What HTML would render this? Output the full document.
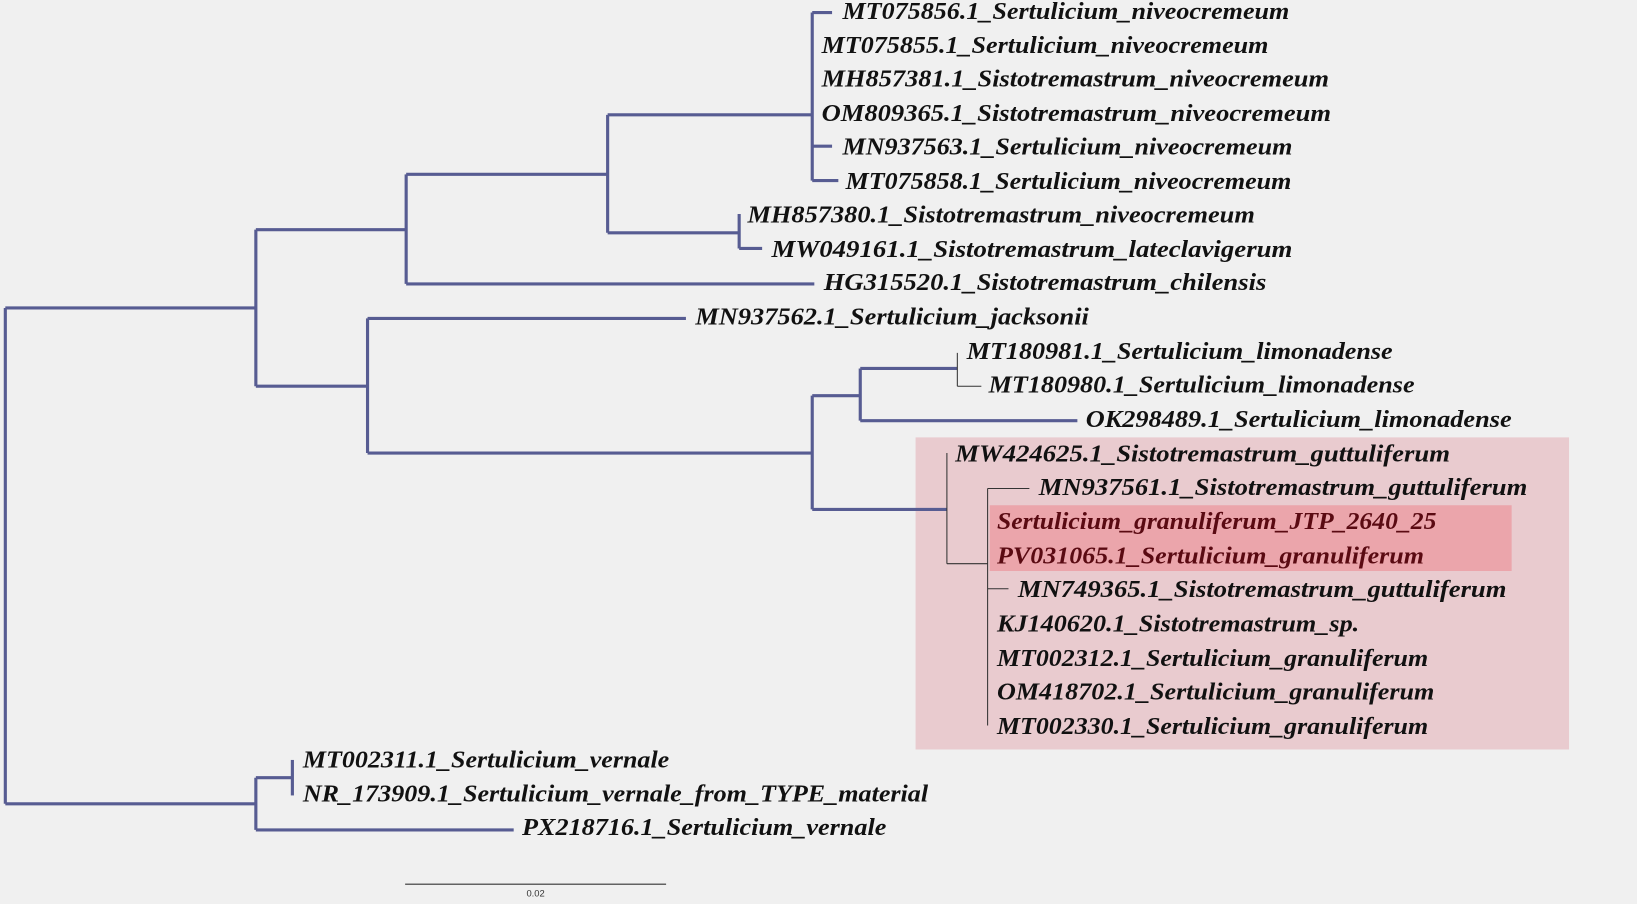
<!DOCTYPE html>
<html><head><meta charset="utf-8"><style>
html,body{margin:0;padding:0;background:#f0f0f0;width:1637px;height:904px;overflow:hidden}
svg{display:block}
text{font-family:"Liberation Serif",serif;font-style:italic;font-weight:bold;font-size:23px;fill:#111}
</style></head><body>
<svg width="1637" height="904" viewBox="0 0 1568 866" xmlns="http://www.w3.org/2000/svg">
<rect x="0" y="0" width="1568" height="866" fill="#f0f0f0"/>
<rect x="877" y="419" width="626" height="299" fill="#e9cbcf"/>
<rect x="948" y="484" width="500" height="63" fill="#eba5ab"/>
<g stroke="#575c92" stroke-width="3" fill="none">
<path d="M5 295V770M5 295H245M5 770H245"/>
<path d="M245 220V370M245 220H389M245 370H352"/>
<path d="M389 167V272M389 167H582M389 272H780"/>
<path d="M582 110V223M582 110H778M582 223H708"/>
<path d="M778 12V173M778 12H797M778 140H797M778 173H803"/>
<path d="M708 205V238M708 238H730"/>
<path d="M352 305V434M352 305H657M352 434H778"/>
<path d="M778 379V488M778 379H824M778 488H907"/>
<path d="M824 353V403M824 353H917M824 403H1032"/>
<path d="M245 745V795M245 745H280M245 795H492"/>
<path d="M280 728V762"/>
</g>
<g stroke="#333" stroke-width="1" fill="none">
<path d="M917 338V370M917 370H940"/>
<path d="M907 434V540M907 540H946"/>
<path d="M946 468V695M946 468H986M946 564H966"/>
<path d="M388 847H638"/>
</g>
<text x="807" y="18" textLength="428" lengthAdjust="spacingAndGlyphs">MT075856.1_Sertulicium_niveocremeum</text>
<text x="787" y="51" textLength="428" lengthAdjust="spacingAndGlyphs">MT075855.1_Sertulicium_niveocremeum</text>
<text x="787" y="83" textLength="486" lengthAdjust="spacingAndGlyphs">MH857381.1_Sistotremastrum_niveocremeum</text>
<text x="787" y="116" textLength="488" lengthAdjust="spacingAndGlyphs">OM809365.1_Sistotremastrum_niveocremeum</text>
<text x="807" y="148" textLength="431" lengthAdjust="spacingAndGlyphs">MN937563.1_Sertulicium_niveocremeum</text>
<text x="810" y="181" textLength="427" lengthAdjust="spacingAndGlyphs">MT075858.1_Sertulicium_niveocremeum</text>
<text x="716" y="213" textLength="486" lengthAdjust="spacingAndGlyphs">MH857380.1_Sistotremastrum_niveocremeum</text>
<text x="739" y="246" textLength="499" lengthAdjust="spacingAndGlyphs">MW049161.1_Sistotremastrum_lateclavigerum</text>
<text x="789" y="278" textLength="424" lengthAdjust="spacingAndGlyphs">HG315520.1_Sistotremastrum_chilensis</text>
<text x="666" y="311" textLength="377" lengthAdjust="spacingAndGlyphs">MN937562.1_Sertulicium_jacksonii</text>
<text x="926" y="344" textLength="408" lengthAdjust="spacingAndGlyphs">MT180981.1_Sertulicium_limonadense</text>
<text x="947" y="376" textLength="408" lengthAdjust="spacingAndGlyphs">MT180980.1_Sertulicium_limonadense</text>
<text x="1040" y="409" textLength="408" lengthAdjust="spacingAndGlyphs">OK298489.1_Sertulicium_limonadense</text>
<text x="915" y="442" textLength="474" lengthAdjust="spacingAndGlyphs">MW424625.1_Sistotremastrum_guttuliferum</text>
<text x="995" y="474" textLength="468" lengthAdjust="spacingAndGlyphs">MN937561.1_Sistotremastrum_guttuliferum</text>
<text x="955" y="507" textLength="421" lengthAdjust="spacingAndGlyphs" style="fill:#5a0a12">Sertulicium_granuliferum_JTP_2640_25</text>
<text x="955" y="540" textLength="409" lengthAdjust="spacingAndGlyphs" style="fill:#5a0a12">PV031065.1_Sertulicium_granuliferum</text>
<text x="975" y="572" textLength="468" lengthAdjust="spacingAndGlyphs">MN749365.1_Sistotremastrum_guttuliferum</text>
<text x="955" y="605" textLength="347" lengthAdjust="spacingAndGlyphs">KJ140620.1_Sistotremastrum_sp.</text>
<text x="955" y="638" textLength="413" lengthAdjust="spacingAndGlyphs">MT002312.1_Sertulicium_granuliferum</text>
<text x="955" y="670" textLength="419" lengthAdjust="spacingAndGlyphs">OM418702.1_Sertulicium_granuliferum</text>
<text x="955" y="703" textLength="413" lengthAdjust="spacingAndGlyphs">MT002330.1_Sertulicium_granuliferum</text>
<text x="290" y="735" textLength="351" lengthAdjust="spacingAndGlyphs">MT002311.1_Sertulicium_vernale</text>
<text x="290" y="768" textLength="599" lengthAdjust="spacingAndGlyphs">NR_173909.1_Sertulicium_vernale_from_TYPE_material</text>
<text x="500" y="800" textLength="349" lengthAdjust="spacingAndGlyphs">PX218716.1_Sertulicium_vernale</text>
<text x="513" y="859" text-anchor="middle" style="font-family:'Liberation Sans',sans-serif;font-style:normal;font-weight:normal;font-size:9px;fill:#333">0.02</text>
</svg>
</body></html>
